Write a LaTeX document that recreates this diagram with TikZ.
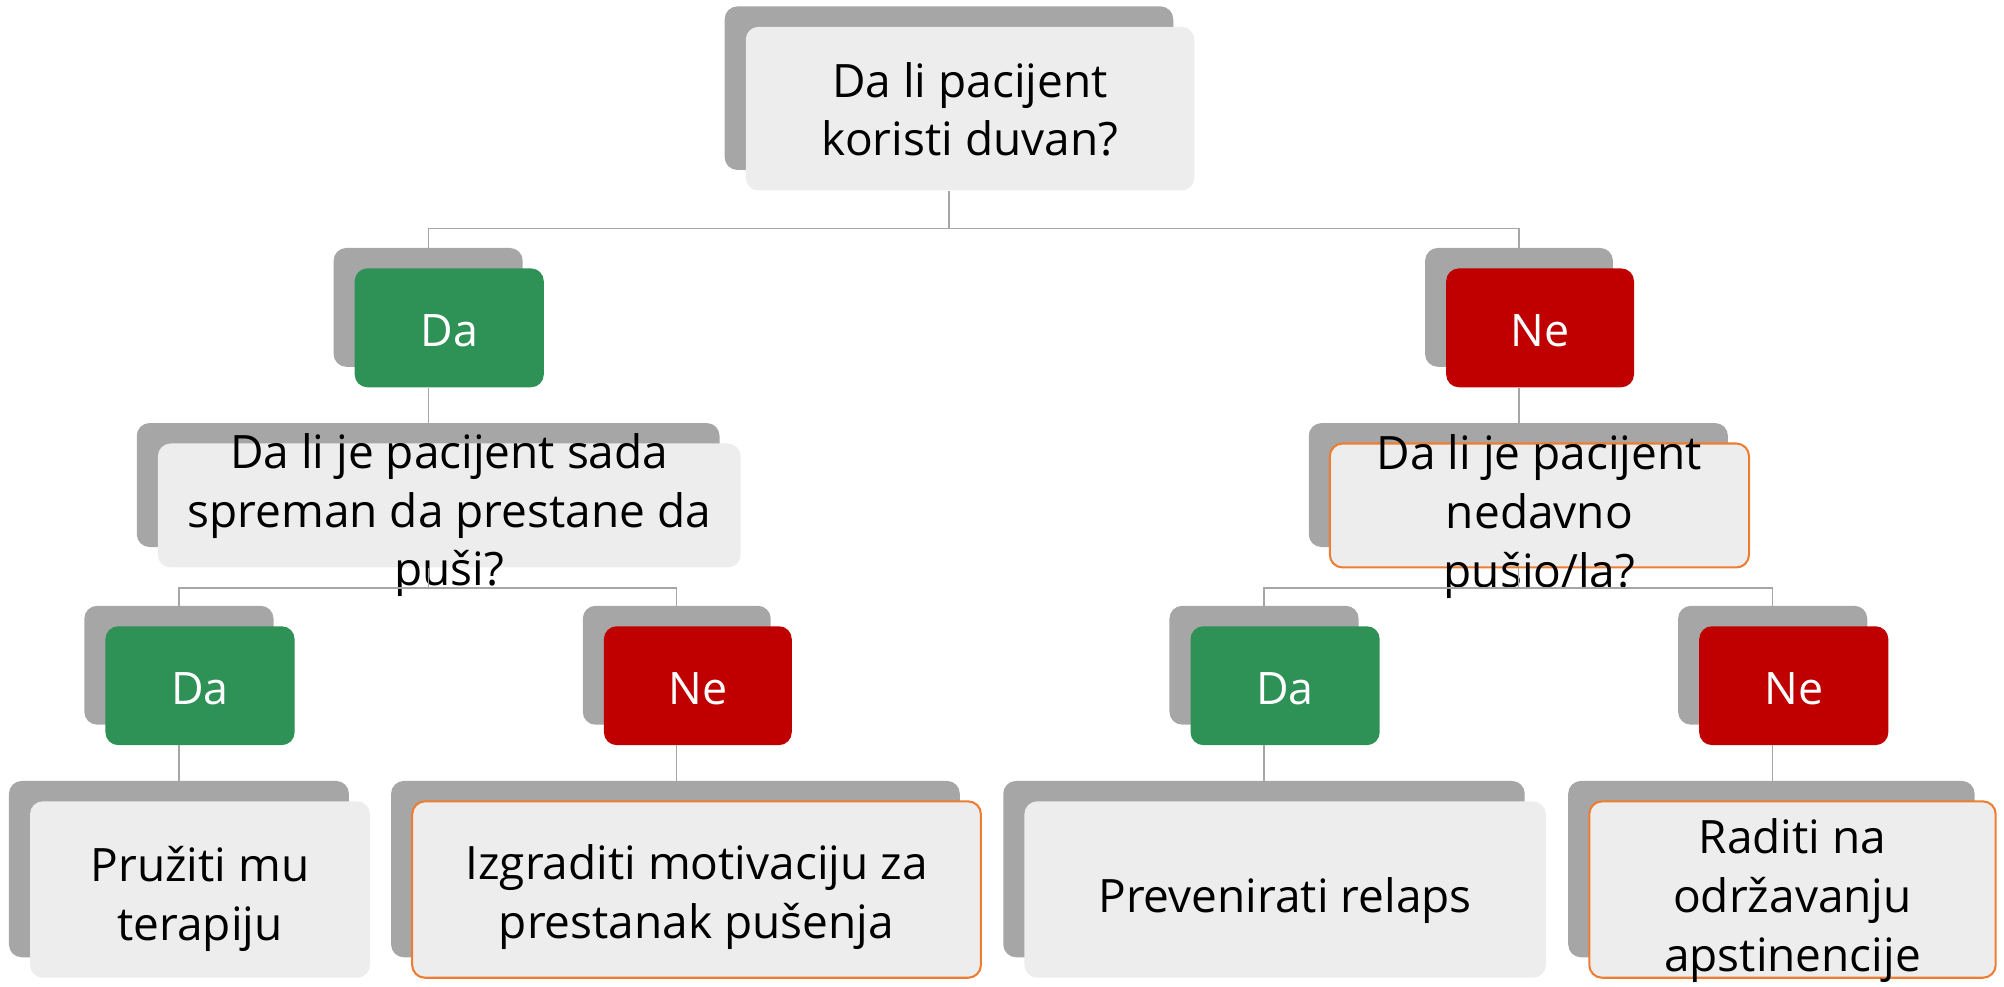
\documentclass[tikz,border=0pt]{standalone}
\usepackage{fontspec}
\setmainfont{Open Sans}
\definecolor{shad}{HTML}{A6A6A6}
\definecolor{lite}{HTML}{EDEDED}
\definecolor{dagreen}{HTML}{2E9155}
\definecolor{nered}{HTML}{C00000}
\definecolor{orng}{HTML}{ED7D31}
\definecolor{conn}{HTML}{A6A6A6}
\tikzset{
  shadowbox/.style={fill=shad, draw=none, rounded corners=10pt, inner sep=0pt},
  qbox/.style={fill=lite, draw=none, rounded corners=10pt, inner sep=0pt, text=black,
    font=\fontsize{36}{46}\selectfont},
  qboxo/.style={qbox, draw=orng, line width=1.6pt},
  yesbox/.style={fill=dagreen, draw=none, rounded corners=10pt, inner sep=0pt, text=white,
    font=\fontsize{35}{46}\selectfont},
  nobox/.style={fill=nered, draw=none, rounded corners=10pt, inner sep=0pt, text=white,
    font=\fontsize{35}{46}\selectfont},
  connline/.style={draw=conn, line width=1pt}
}
% #1 name, #2-#5 shadow box x1,y1,x2,y2, #6 style, #7 text, #8 text drop
\newcommand\mypair[8]{%
  \node[shadowbox, minimum width={(#4-#2)*1pt}, minimum height={(#5-#3)*1pt}]
    (s#1) at ({(#2+#4)/2},{(#3+#5)/2}) {};
  \node[#6, minimum width={(#4-#2)*1pt}, minimum height={(#5-#3)*1pt}]
    (#1) at ({(#2+#4)/2+16.5},{(#3+#5)/2+16})
    {\raisebox{\dimexpr-9pt-#8\relax}[0pt][0pt]{\begin{tabular}{@{}c@{}}#7\end{tabular}}};
}
\begin{document}
\begin{tikzpicture}[x=1pt,y=-1pt]
\useasboundingbox (0,0) rectangle (1568,772);
\mypair{root}{567}{5}{918}{133}{qbox}{Da li pacijent\\koristi duvan?}{2pt}
\mypair{daL}{261}{194}{409}{287}{yesbox}{Da}{3pt}
\mypair{neR}{1115}{194}{1262}{287}{nobox}{Ne}{3pt}
\mypair{qL}{107}{331}{563}{428}{qbox}{Da li je pacijent sada\\spreman da prestane da\\puši?}{5pt}
\mypair{qR}{1024}{331}{1352}{428}{qboxo}{Da li je pacijent\\nedavno\\pušio/la?}{6pt}
\mypair{da1}{66}{474}{214}{567}{yesbox}{Da}{3pt}
\mypair{ne1}{456}{474}{603}{567}{nobox}{Ne}{3pt}
\mypair{da2}{915}{474}{1063}{567}{yesbox}{Da}{3pt}
\mypair{ne2}{1313}{474}{1461}{567}{nobox}{Ne}{3pt}
\mypair{l1}{7}{611}{273}{749}{qbox}{Pružiti mu\\terapiju}{5pt}
\mypair{l2}{306}{611}{751}{749}{qboxo}{Izgraditi motivaciju za\\prestanak pušenja}{3pt}
\mypair{l3}{785}{611}{1193}{749}{qbox}{Prevenirati relaps}{6pt}
\mypair{l4}{1227}{611}{1545}{749}{qboxo}{Raditi na\\održavanju\\apstinencije}{6pt}
% bus levels
\coordinate (b1) at (0,179);
\coordinate (b2) at (0,460);
% connectors
\draw[connline] (sroot.south |- root.south) -- (sroot.south |- b1) -| (sdaL.north);
\draw[connline] (sroot.south |- b1) -| (sneR.north);
\draw[connline] (sdaL.south |- daL.south) -- (sdaL.south |- sqL.north);
\draw[connline] (sneR.south |- neR.south) -- (sneR.south |- sqR.north);
\draw[connline] (sqL.south |- qL.south) -- (sqL.south |- b2) -| (sda1.north);
\draw[connline] (sqL.south |- b2) -| (sne1.north);
\draw[connline] (sqR.south |- qR.south) -- (sqR.south |- b2) -| (sda2.north);
\draw[connline] (sqR.south |- b2) -| (sne2.north);
\draw[connline] (sda1.south |- da1.south) -- (sda1.south |- sl1.north);
\draw[connline] (sne1.south |- ne1.south) -- (sne1.south |- sl2.north);
\draw[connline] (sda2.south |- da2.south) -- (sda2.south |- sl3.north);
\draw[connline] (sne2.south |- ne2.south) -- (sne2.south |- sl4.north);
\end{tikzpicture}
\end{document}
